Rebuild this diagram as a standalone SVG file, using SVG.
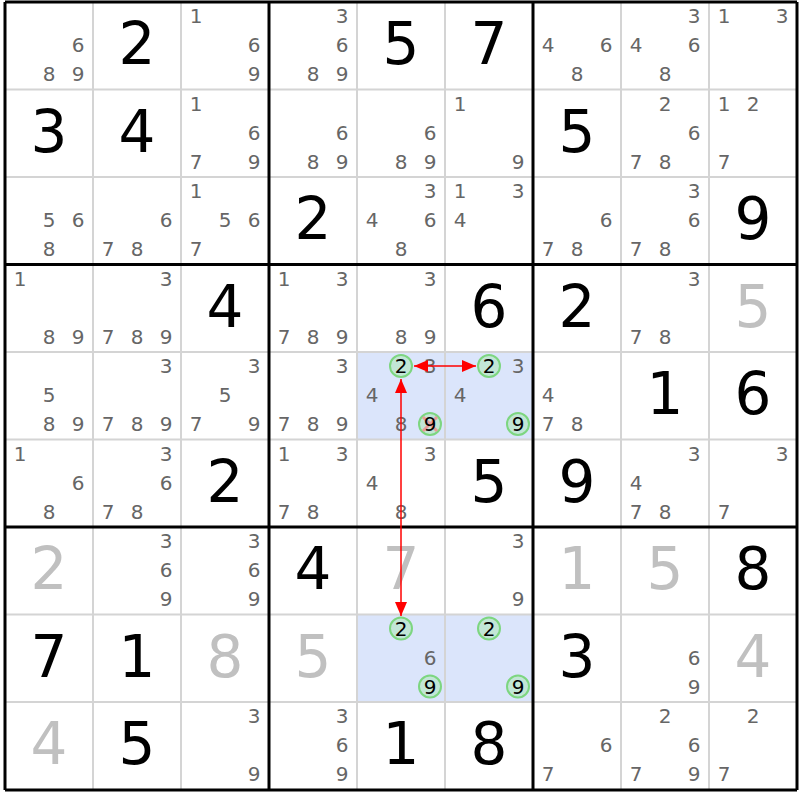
<svg xmlns="http://www.w3.org/2000/svg" width="800" height="800" viewBox="0 0 800 800">
<style>
.g{font-family:"DejaVu Sans","Liberation Sans",sans-serif;font-size:58px;text-anchor:middle;fill:#000}
.s{fill:#c0c0c0}
.c{font-family:"DejaVu Sans","Liberation Sans",sans-serif;font-size:20px;text-anchor:middle;fill:#666}
.k{fill:#000}
.hl{fill:#dbe5fb}
.ring{fill:#c2e6d6;stroke:#7dd680;stroke-width:2}
.thin{stroke:#d4d4d4;stroke-width:2}
.thick{stroke:#000;stroke-width:3}
.arr{stroke:#f00;stroke-width:1.5;fill:none}
.x{stroke:#f08a8a;stroke-width:3;opacity:0.8}
</style>
<defs>
<marker id="ah" viewBox="0 0 14 12" refX="14" refY="6" markerWidth="14" markerHeight="12" markerUnits="userSpaceOnUse" orient="auto-start-reverse">
<path d="M0,0 L14,6 L0,12 Z" fill="#f00"/>
</marker>
</defs>
<rect width="800" height="800" fill="#fff"/>
<g id="highlights">
<rect class="hl" x="357" y="352" width="176" height="87.5"/>
<rect class="hl" x="357" y="614.5" width="176" height="87.5"/>
</g>
<g id="gridlines">
<path class="thin" d="M93,2V790M181,2V790M357,2V790M445,2V790M621,2V790M709,2V790M5,89.5H797M5,177H797M5,352H797M5,439.5H797M5,614.5H797M5,702H797"/>
<path class="thick" d="M5,2V790M269,2V790M533,2V790M797,2V790M5,2H797M5,264.5H797M5,527H797M5,790H797"/>
</g>
<g id="r1">
<g id="r1c1"><text class="c" x="78" y="52">6</text><text class="c" x="49" y="81">8</text><text class="c" x="78" y="81">9</text></g>
<g id="r1c2"><text class="g" x="137" y="64">2</text></g>
<g id="r1c3"><text class="c" x="196" y="23">1</text><text class="c" x="254" y="52">6</text><text class="c" x="254" y="81">9</text></g>
<g id="r1c4"><text class="c" x="342" y="23">3</text><text class="c" x="342" y="52">6</text><text class="c" x="313" y="81">8</text><text class="c" x="342" y="81">9</text></g>
<g id="r1c5"><text class="g" x="401" y="64">5</text></g>
<g id="r1c6"><text class="g" x="489" y="64">7</text></g>
<g id="r1c7"><text class="c" x="548" y="52">4</text><text class="c" x="606" y="52">6</text><text class="c" x="577" y="81">8</text></g>
<g id="r1c8"><text class="c" x="694" y="23">3</text><text class="c" x="636" y="52">4</text><text class="c" x="694" y="52">6</text><text class="c" x="665" y="81">8</text></g>
<g id="r1c9"><text class="c" x="724" y="23">1</text><text class="c" x="782" y="23">3</text></g>
</g>
<g id="r2">
<g id="r2c1"><text class="g" x="49" y="151.5">3</text></g>
<g id="r2c2"><text class="g" x="137" y="151.5">4</text></g>
<g id="r2c3"><text class="c" x="196" y="110.5">1</text><text class="c" x="254" y="139.5">6</text><text class="c" x="196" y="168.5">7</text><text class="c" x="254" y="168.5">9</text></g>
<g id="r2c4"><text class="c" x="342" y="139.5">6</text><text class="c" x="313" y="168.5">8</text><text class="c" x="342" y="168.5">9</text></g>
<g id="r2c5"><text class="c" x="430" y="139.5">6</text><text class="c" x="401" y="168.5">8</text><text class="c" x="430" y="168.5">9</text></g>
<g id="r2c6"><text class="c" x="460" y="110.5">1</text><text class="c" x="518" y="168.5">9</text></g>
<g id="r2c7"><text class="g" x="577" y="151.5">5</text></g>
<g id="r2c8"><text class="c" x="665" y="110.5">2</text><text class="c" x="694" y="139.5">6</text><text class="c" x="636" y="168.5">7</text><text class="c" x="665" y="168.5">8</text></g>
<g id="r2c9"><text class="c" x="724" y="110.5">1</text><text class="c" x="753" y="110.5">2</text><text class="c" x="724" y="168.5">7</text></g>
</g>
<g id="r3">
<g id="r3c1"><text class="c" x="49" y="227">5</text><text class="c" x="78" y="227">6</text><text class="c" x="49" y="256">8</text></g>
<g id="r3c2"><text class="c" x="166" y="227">6</text><text class="c" x="108" y="256">7</text><text class="c" x="137" y="256">8</text></g>
<g id="r3c3"><text class="c" x="196" y="198">1</text><text class="c" x="225" y="227">5</text><text class="c" x="254" y="227">6</text><text class="c" x="196" y="256">7</text></g>
<g id="r3c4"><text class="g" x="313" y="239">2</text></g>
<g id="r3c5"><text class="c" x="430" y="198">3</text><text class="c" x="372" y="227">4</text><text class="c" x="430" y="227">6</text><text class="c" x="401" y="256">8</text></g>
<g id="r3c6"><text class="c" x="460" y="198">1</text><text class="c" x="518" y="198">3</text><text class="c" x="460" y="227">4</text></g>
<g id="r3c7"><text class="c" x="606" y="227">6</text><text class="c" x="548" y="256">7</text><text class="c" x="577" y="256">8</text></g>
<g id="r3c8"><text class="c" x="694" y="198">3</text><text class="c" x="694" y="227">6</text><text class="c" x="636" y="256">7</text><text class="c" x="665" y="256">8</text></g>
<g id="r3c9"><text class="g" x="753" y="239">9</text></g>
</g>
<g id="r4">
<g id="r4c1"><text class="c" x="20" y="285.5">1</text><text class="c" x="49" y="343.5">8</text><text class="c" x="78" y="343.5">9</text></g>
<g id="r4c2"><text class="c" x="166" y="285.5">3</text><text class="c" x="108" y="343.5">7</text><text class="c" x="137" y="343.5">8</text><text class="c" x="166" y="343.5">9</text></g>
<g id="r4c3"><text class="g" x="225" y="326.5">4</text></g>
<g id="r4c4"><text class="c" x="284" y="285.5">1</text><text class="c" x="342" y="285.5">3</text><text class="c" x="284" y="343.5">7</text><text class="c" x="313" y="343.5">8</text><text class="c" x="342" y="343.5">9</text></g>
<g id="r4c5"><text class="c" x="430" y="285.5">3</text><text class="c" x="401" y="343.5">8</text><text class="c" x="430" y="343.5">9</text></g>
<g id="r4c6"><text class="g" x="489" y="326.5">6</text></g>
<g id="r4c7"><text class="g" x="577" y="326.5">2</text></g>
<g id="r4c8"><text class="c" x="694" y="285.5">3</text><text class="c" x="636" y="343.5">7</text><text class="c" x="665" y="343.5">8</text></g>
<g id="r4c9"><text class="g s" x="753" y="326.5">5</text></g>
</g>
<g id="r5">
<g id="r5c1"><text class="c" x="49" y="402">5</text><text class="c" x="49" y="431">8</text><text class="c" x="78" y="431">9</text></g>
<g id="r5c2"><text class="c" x="166" y="373">3</text><text class="c" x="108" y="431">7</text><text class="c" x="137" y="431">8</text><text class="c" x="166" y="431">9</text></g>
<g id="r5c3"><text class="c" x="254" y="373">3</text><text class="c" x="225" y="402">5</text><text class="c" x="196" y="431">7</text><text class="c" x="254" y="431">9</text></g>
<g id="r5c4"><text class="c" x="342" y="373">3</text><text class="c" x="284" y="431">7</text><text class="c" x="313" y="431">8</text><text class="c" x="342" y="431">9</text></g>
<g id="r5c5"><circle class="ring" cx="401" cy="366" r="11"/><text class="c k" x="401" y="373">2</text><text class="c" x="430" y="373">3</text><text class="c" x="372" y="402">4</text><text class="c" x="401" y="431">8</text><circle class="ring" cx="430" cy="424" r="11"/><path class="x" d="M423,417L437,431M437,417L423,431"/><text class="c k" x="430" y="431">9</text></g>
<g id="r5c6"><circle class="ring" cx="489" cy="366" r="11"/><text class="c k" x="489" y="373">2</text><text class="c" x="518" y="373">3</text><text class="c" x="460" y="402">4</text><circle class="ring" cx="518" cy="424" r="11"/><text class="c k" x="518" y="431">9</text></g>
<g id="r5c7"><text class="c" x="548" y="402">4</text><text class="c" x="548" y="431">7</text><text class="c" x="577" y="431">8</text></g>
<g id="r5c8"><text class="g" x="665" y="414">1</text></g>
<g id="r5c9"><text class="g" x="753" y="414">6</text></g>
</g>
<g id="r6">
<g id="r6c1"><text class="c" x="20" y="460.5">1</text><text class="c" x="78" y="489.5">6</text><text class="c" x="49" y="518.5">8</text></g>
<g id="r6c2"><text class="c" x="166" y="460.5">3</text><text class="c" x="166" y="489.5">6</text><text class="c" x="108" y="518.5">7</text><text class="c" x="137" y="518.5">8</text></g>
<g id="r6c3"><text class="g" x="225" y="501.5">2</text></g>
<g id="r6c4"><text class="c" x="284" y="460.5">1</text><text class="c" x="342" y="460.5">3</text><text class="c" x="284" y="518.5">7</text><text class="c" x="313" y="518.5">8</text></g>
<g id="r6c5"><text class="c" x="430" y="460.5">3</text><text class="c" x="372" y="489.5">4</text><text class="c" x="401" y="518.5">8</text></g>
<g id="r6c6"><text class="g" x="489" y="501.5">5</text></g>
<g id="r6c7"><text class="g" x="577" y="501.5">9</text></g>
<g id="r6c8"><text class="c" x="694" y="460.5">3</text><text class="c" x="636" y="489.5">4</text><text class="c" x="636" y="518.5">7</text><text class="c" x="665" y="518.5">8</text></g>
<g id="r6c9"><text class="c" x="782" y="460.5">3</text><text class="c" x="724" y="518.5">7</text></g>
</g>
<g id="r7">
<g id="r7c1"><text class="g s" x="49" y="589">2</text></g>
<g id="r7c2"><text class="c" x="166" y="548">3</text><text class="c" x="166" y="577">6</text><text class="c" x="166" y="606">9</text></g>
<g id="r7c3"><text class="c" x="254" y="548">3</text><text class="c" x="254" y="577">6</text><text class="c" x="254" y="606">9</text></g>
<g id="r7c4"><text class="g" x="313" y="589">4</text></g>
<g id="r7c5"><text class="g s" x="401" y="589">7</text></g>
<g id="r7c6"><text class="c" x="518" y="548">3</text><text class="c" x="518" y="606">9</text></g>
<g id="r7c7"><text class="g s" x="577" y="589">1</text></g>
<g id="r7c8"><text class="g s" x="665" y="589">5</text></g>
<g id="r7c9"><text class="g" x="753" y="589">8</text></g>
</g>
<g id="r8">
<g id="r8c1"><text class="g" x="49" y="676.5">7</text></g>
<g id="r8c2"><text class="g" x="137" y="676.5">1</text></g>
<g id="r8c3"><text class="g s" x="225" y="676.5">8</text></g>
<g id="r8c4"><text class="g s" x="313" y="676.5">5</text></g>
<g id="r8c5"><circle class="ring" cx="401" cy="628.5" r="11"/><text class="c k" x="401" y="635.5">2</text><text class="c" x="430" y="664.5">6</text><circle class="ring" cx="430" cy="686.5" r="11"/><text class="c k" x="430" y="693.5">9</text></g>
<g id="r8c6"><circle class="ring" cx="489" cy="628.5" r="11"/><text class="c k" x="489" y="635.5">2</text><circle class="ring" cx="518" cy="686.5" r="11"/><text class="c k" x="518" y="693.5">9</text></g>
<g id="r8c7"><text class="g" x="577" y="676.5">3</text></g>
<g id="r8c8"><text class="c" x="694" y="664.5">6</text><text class="c" x="694" y="693.5">9</text></g>
<g id="r8c9"><text class="g s" x="753" y="676.5">4</text></g>
</g>
<g id="r9">
<g id="r9c1"><text class="g s" x="49" y="764">4</text></g>
<g id="r9c2"><text class="g" x="137" y="764">5</text></g>
<g id="r9c3"><text class="c" x="254" y="723">3</text><text class="c" x="254" y="781">9</text></g>
<g id="r9c4"><text class="c" x="342" y="723">3</text><text class="c" x="342" y="752">6</text><text class="c" x="342" y="781">9</text></g>
<g id="r9c5"><text class="g" x="401" y="764">1</text></g>
<g id="r9c6"><text class="g" x="489" y="764">8</text></g>
<g id="r9c7"><text class="c" x="606" y="752">6</text><text class="c" x="548" y="781">7</text></g>
<g id="r9c8"><text class="c" x="665" y="723">2</text><text class="c" x="694" y="752">6</text><text class="c" x="636" y="781">7</text><text class="c" x="694" y="781">9</text></g>
<g id="r9c9"><text class="c" x="753" y="723">2</text><text class="c" x="724" y="781">7</text></g>
</g>
<g id="connectors">
<line class="arr" x1="414" y1="366" x2="476" y2="366" marker-start="url(#ah)" marker-end="url(#ah)"/>
<line class="arr" x1="401" y1="379" x2="401" y2="616" marker-start="url(#ah)" marker-end="url(#ah)"/>
</g>
</svg>
